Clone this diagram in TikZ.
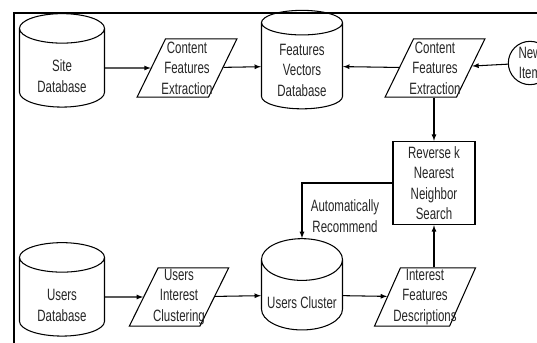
\documentclass[tikz,border=0pt]{standalone}
\usepackage{fontspec}
\setmainfont[FakeStretch=0.7]{Liberation Sans}
\usetikzlibrary{shapes.geometric,positioning}

\begin{document}
\begin{tikzpicture}[x=0.03cm,y=-0.03cm,line width=0.9pt,
	font=\fontsize{14}{17.5}\selectfont,
	db/.style={cylinder,shape border rotate=90,aspect=0.6,draw,inner sep=0pt,align=center,text=black!85},
	proc/.style={trapezium,trapezium left angle=65,trapezium right angle=115,trapezium stretches=true,draw,inner xsep=-6pt,inner ysep=0pt,align=center,text=black!85,minimum width=3cm,minimum height=1.75cm},
	box/.style={rectangle,draw,inner sep=0pt,align=center,text=black!85},
	conn/.style={-latex}]
	\clip (0,0) rectangle (537,343);

	% Frame
	\draw[line width=1.1pt] (14,360) -- (14,13) -- (560,13);

	% Databases (text height pushes the text below the top ellipse)
	\node[db,minimum width=2.55cm,minimum height=2.6cm,text height=41.4pt] (sitedb) at (62,68) {Site\\Database};
	\node[db,minimum width=2.43cm,minimum height=2.75cm,text height=52pt,aspect=0.5] (fvdb) at (302,66) {Features\\Vectors\\Database};
	\node[db,minimum width=2.55cm,minimum height=2.55cm,text height=41.4pt] (usersdb) at (62,297) {Users\\Database};
	\node[db,minimum width=2.43cm,minimum height=2.7cm,text height=23.9pt] (uclust) at (302,295) {Users Cluster};

	% Processes
	\node[proc] (cfea) at (187,68) {Content\\Features\\Extraction};
	\node[proc] (cfeb) at (435,68) {Content\\Features\\Extraction};
	\node[proc] (uic) at (179,297) {Users\\Interest\\Clustering};
	\node[proc] (ifd) at (425,297) {Interest\\Features\\Descriptions};

	% Search and new item
	\node[box,minimum width=2.46cm,minimum height=2.5cm] (rknn) at (434,183) {Reverse k\\Nearest\\Neighbor\\Search};
	\node[circle,draw,inner sep=0pt,minimum size=1.3cm,align=center,text=black!85] (newitem) at (530,63) {New\\Item};
	\node[text=black!85,align=center] (autorec) at (345,216) {Automatically\\Recommend};

	% Connectors
	\draw[conn] (sitedb) -- (cfea);
	\draw[conn] (cfea) -- (fvdb);
	\draw[conn] (cfeb) -- (fvdb);
	\draw[conn] (newitem) -- (cfeb);
	\draw[conn] (cfeb.south -| rknn.north) -- (rknn.north);
	\draw[conn] (rknn.west) -| (uclust.north);
	\draw[conn] (usersdb) -- (uic);
	\draw[conn] (uic) -- (uclust);
	\draw[conn] (uclust) -- (ifd);
	\draw[conn] (rknn.south |- ifd.north) -- (rknn.south);
\end{tikzpicture}
\end{document}
